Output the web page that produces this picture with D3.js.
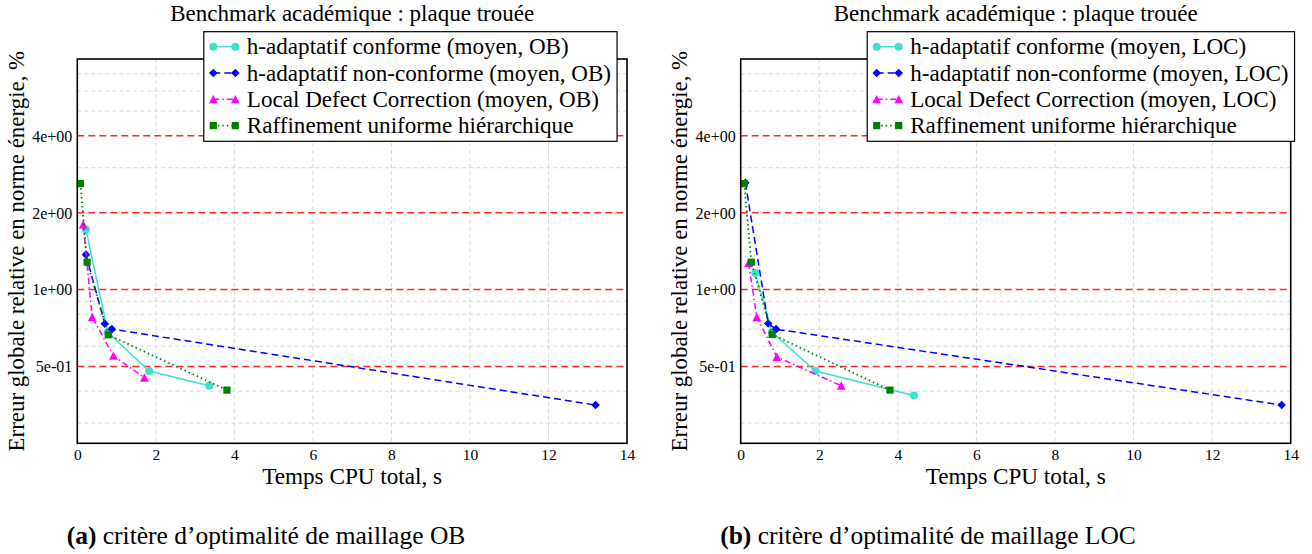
<!DOCTYPE html>
<html><head><meta charset="utf-8">
<script src="https://cdn.jsdelivr.net/npm/d3@7"></script>
<style>
html,body{margin:0;padding:0;background:#fff;}
svg{display:block;}
text{font-family:"Liberation Serif","Times New Roman",serif;fill:#000;}
</style></head>
<body>
<svg id="chart" width="1312" height="554"></svg>
<script>
// ---------- data ----------
const title = "Benchmark académique : plaque trouée";
const xLabel = "Temps CPU total, s";
const yLabel = "Erreur globale relative en norme énergie, %";
const xTicks = [0, 2, 4, 6, 8, 10, 12, 14];
const yMajorTicks = [0.5, 1, 2, 4];
const yMajorLabels = ["5e-01", "1e+00", "2e+00", "4e+00"];
const yMinorTicks = [0.3, 0.4, 0.6, 0.7, 0.8, 0.9, 3, 5, 6, 7];

// Panel (a) : critère OB
const obConformeX = [0.22, 0.78, 1.83, 3.36];
const obConformeY = [1.72, 0.68, 0.48, 0.42];
const obNonConformeX = [0.22, 0.70, 0.88, 13.2];
const obNonConformeY = [1.37, 0.735, 0.70, 0.353];
const obLdcX = [0.15, 0.38, 0.92, 1.71];
const obLdcY = [1.80, 0.78, 0.55, 0.452];
const obUniformeX = [0.08, 0.25, 0.79, 3.81];
const obUniformeY = [2.60, 1.28, 0.665, 0.404];

// Panel (b) : critère LOC
const locConformeX = [0.37, 0.80, 1.90, 4.41];
const locConformeY = [1.16, 0.68, 0.48, 0.385];
const locNonConformeX = [0.12, 0.70, 0.90, 13.77];
const locNonConformeY = [2.62, 0.736, 0.70, 0.353];
const locLdcX = [0.20, 0.41, 0.92, 2.56];
const locLdcY = [1.27, 0.78, 0.545, 0.42];
const locUniformeX = [0.09, 0.27, 0.80, 3.80];
const locUniformeY = [2.60, 1.28, 0.667, 0.404];

const obLegend = ["h-adaptatif conforme (moyen, OB)", "h-adaptatif non-conforme (moyen, OB)",
                  "Local Defect Correction (moyen, OB)", "Raffinement uniforme hiérarchique"];
const locLegend = ["h-adaptatif conforme (moyen, LOC)", "h-adaptatif non-conforme (moyen, LOC)",
                   "Local Defect Correction (moyen, LOC)", "Raffinement uniforme hiérarchique"];
const captionLetters = ["(a)", "(b)"];
const captionTexts = ["critère d’optimalité de maillage OB", "critère d’optimalité de maillage LOC"];

// ---------- styles ----------
const seriesStyle = [
  {color: "#40e0d0", dash: null, marker: "circle", width: 1.5},
  {color: "#0000ff", dash: "7,4", marker: "diamond", width: 1.5},
  {color: "#ff00ff", dash: "6,3,1.5,3", marker: "triangle", width: 1.5},
  {color: "#008000", dash: "1.5,3", marker: "square", width: 1.8}
];

const zip = (xs, ys) => xs.map((x, i) => ({x, y: ys[i]}));

const panels = [
  {x0: 77.3, x1: 627, series: [zip(obConformeX, obConformeY), zip(obNonConformeX, obNonConformeY),
     zip(obLdcX, obLdcY), zip(obUniformeX, obUniformeY)], legend: obLegend, capX: 266},
  {x0: 740.7, x1: 1290.7, series: [zip(locConformeX, locConformeY), zip(locNonConformeX, locNonConformeY),
     zip(locLdcX, locLdcY), zip(locUniformeX, locUniformeY)], legend: locLegend, capX: 928}
];

const yTop = 59, yBottom = 443.3;
const FONT = "'Liberation Serif', 'Times New Roman', serif";
const svg = d3.select("#chart");

function drawMarker(g, type, cx, cy, color) {
  if (type === "circle") {
    g.append("circle").attr("cx", cx).attr("cy", cy).attr("r", 4).attr("fill", color);
    return;
  }
  let d;
  if (type === "diamond") d = "M0,-4.3L4.3,0L0,4.3L-4.3,0Z";
  else if (type === "triangle") d = "M0,-4.4L4.4,4.0L-4.4,4.0Z";
  else d = "M-3.6,-3.6H3.6V3.6H-3.6Z";
  g.append("path").attr("d", d).attr("transform", `translate(${cx},${cy})`).attr("fill", color);
}

panels.forEach((p, pi) => {
  const x = d3.scaleLinear().domain([0, 14]).range([p.x0, p.x1]);
  const y = d3.scaleLog().domain([0.25, 8]).range([yBottom, yTop]);
  const g = svg.append("g");

  // minor grid
  g.selectAll(".vg").data(xTicks.filter(t => t > 0 && t < 14)).enter().append("line")
    .attr("x1", d => x(d)).attr("x2", d => x(d)).attr("y1", yTop).attr("y2", yBottom)
    .attr("stroke", "#d8d8d8").attr("stroke-width", 1).attr("stroke-dasharray", "4,3");
  g.selectAll(".hg").data(yMinorTicks).enter().append("line")
    .attr("x1", p.x0).attr("x2", p.x1).attr("y1", d => y(d)).attr("y2", d => y(d))
    .attr("stroke", "#d8d8d8").attr("stroke-width", 1).attr("stroke-dasharray", "4,3");
  // major red grid
  g.selectAll(".rg").data(yMajorTicks).enter().append("line")
    .attr("x1", p.x0).attr("x2", p.x1).attr("y1", d => y(d)).attr("y2", d => y(d))
    .attr("stroke", "#ff2828").attr("stroke-width", 1.5).attr("stroke-dasharray", "7,4");

  // axes tick labels
  const xAxis = d3.axisBottom(x).tickValues(xTicks).tickSize(0).tickFormat(d3.format("d"));
  const xa = g.append("g").attr("transform", `translate(0,${yBottom})`).call(xAxis);
  xa.attr("font-family", FONT);
  xa.select(".domain").remove();
  xa.selectAll("text").attr("font-size", 15.5).attr("dy", null).attr("y", 16.3)
    .style("font-family", FONT);

  const yAxis = d3.axisLeft(y).tickValues(yMajorTicks).tickSize(0)
    .tickFormat((d, i) => yMajorLabels[i]);
  const ya = g.append("g").attr("transform", `translate(${p.x0},0)`).call(yAxis);
  ya.attr("font-family", FONT);
  ya.select(".domain").remove();
  ya.selectAll("text").attr("font-size", 16).attr("x", -5).attr("dy", "0.33em")
    .style("font-family", FONT);

  // series
  p.series.forEach((data, si) => {
    const st = seriesStyle[si];
    const line = d3.line().x(d => x(d.x)).y(d => y(d.y));
    g.append("path").datum(data).attr("d", line).attr("fill", "none")
      .attr("stroke", st.color).attr("stroke-width", st.width)
      .attr("stroke-dasharray", st.dash);
    data.forEach(d => drawMarker(g, st.marker, x(d.x), y(d.y), st.color));
  });

  // frame
  g.append("rect").attr("x", p.x0).attr("y", yTop).attr("width", p.x1 - p.x0)
    .attr("height", yBottom - yTop).attr("fill", "none").attr("stroke", "#000").attr("stroke-width", 1.6);

  // title & labels
  g.append("text").attr("x", (p.x0 + p.x1) / 2).attr("y", 21).attr("text-anchor", "middle")
    .attr("font-size", 23).style("font-family", FONT).text(title);
  g.append("text").attr("x", (p.x0 + p.x1) / 2).attr("y", 483.5).attr("text-anchor", "middle")
    .attr("font-size", 23.2).style("font-family", FONT).text(xLabel);
  g.append("text").attr("transform", `translate(${p.x0 - 53.5},${(yTop + yBottom) / 2}) rotate(-90)`)
    .attr("text-anchor", "middle").attr("font-size", 22.9).style("font-family", FONT).text(yLabel);

  // legend
  const lx = p.x0 + 126.5, ly = 31.7, rowH = 26.3;
  const lg = g.append("g");
  const box = lg.append("rect").attr("x", lx).attr("y", ly).attr("height", 141.3 - 31.7)
    .attr("fill", "#fff").attr("stroke", "#000").attr("stroke-width", 1.2);
  let maxW = 0;
  p.legend.forEach((lab, i) => {
    const cy = ly + 15 + i * rowH;
    const st = seriesStyle[i];
    lg.append("line").attr("x1", lx + 9.5).attr("x2", lx + 31.5).attr("y1", cy).attr("y2", cy)
      .attr("stroke", st.color).attr("stroke-width", st.width).attr("stroke-dasharray", st.dash);
    drawMarker(lg, st.marker, lx + 9.5, cy, st.color);
    drawMarker(lg, st.marker, lx + 31.5, cy, st.color);
    const t = lg.append("text").attr("x", lx + 43).attr("y", cy + 7.5).attr("font-size", 23.1)
      .style("font-family", FONT).text(lab);
    maxW = Math.max(maxW, t.node().getComputedTextLength());
  });
  box.attr("width", 43 + maxW + 6);

  // caption
  const cap = svg.append("text").attr("x", p.capX).attr("y", 544).attr("text-anchor", "middle")
    .attr("font-size", 25.5).style("font-family", FONT);
  cap.append("tspan").attr("font-weight", "bold").text(captionLetters[pi]);
  cap.append("tspan").text(" " + captionTexts[pi]);
});
</script>
</body></html>
